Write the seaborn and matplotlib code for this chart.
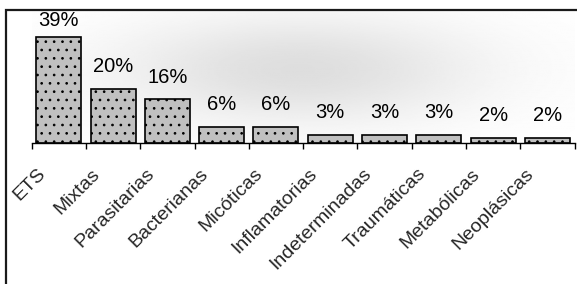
import numpy as np
import pandas as pd
import matplotlib
matplotlib.use("Agg")
import matplotlib.pyplot as plt
import matplotlib.patches as mpatches
from matplotlib.transforms import ScaledTranslation
import seaborn as sns

# Chart data
categories = ['ETS', 'Mixtas', 'Parasitarias', 'Bacterianas', 'Micóticas',
              'Inflamatorias', 'Indeterminadas', 'Traumáticas', 'Metabólicas', 'Neoplásicas']
percent = [39, 20, 16, 6, 6, 3, 3, 3, 2, 2]

sns.set_theme(style="white")
plt.rcParams['font.family'] = ['Liberation Sans', 'DejaVu Sans']
plt.rcParams['hatch.linewidth'] = 0.7

DPI = 100
fig = plt.figure(figsize=(5.77, 2.84), dpi=DPI)
fig.patch.set_facecolor('white')

# axes placed to match the reference plot area (pixels -> figure fraction)
ax = fig.add_axes([31.7 / 577, 141 / 284, (574.5 - 31.7) / 577, 133 / 284])
YTOP = 133 / 2.72

df = pd.DataFrame({'cat': categories, 'pct': percent})
sns.barplot(data=df, x='cat', y='pct', color='#c0c0c0', width=0.83,
            saturation=1, edgecolor='black', linewidth=1.2, ax=ax, zorder=2)
for p in ax.patches:
    p.set_hatch('..')

ax.set_xlim(-0.5, len(categories) - 0.5)
ax.set_ylim(0, YTOP)

# soft centred gradient of the plot area
gx, gy = np.meshgrid(np.linspace(-0.5, 9.5, 300), np.linspace(0, YTOP, 150))
g = np.exp(-(((gx - 4.4) / 3.4) ** 2 + ((gy - 27) / 20) ** 2))
shade = 1 - 0.13 * g
ax.imshow(shade, extent=(-0.5, 9.5, 0, YTOP), origin='lower', aspect='auto',
          cmap='gray', vmin=0, vmax=1, zorder=0)

# value labels
for i, v in enumerate(percent):
    ax.text(i, min(v + 8.1, 45.2), f'{v}%', ha='center', va='center',
            fontsize=14.5, color='black', zorder=3)

# axes styling
for s in ['left', 'top', 'right']:
    ax.spines[s].set_visible(False)
ax.spines['bottom'].set_color('black')
ax.spines['bottom'].set_linewidth(1.0)
ax.set_yticks([])
ax.set_xlabel('')
ax.set_ylabel('')
ax.set_xticks(np.arange(-0.5, len(categories), 1), minor=True)
ax.tick_params(axis='x', which='minor', bottom=True, length=4.3, width=1.0,
               color='black', direction='out')
ax.tick_params(axis='x', which='major', bottom=False, length=0, pad=20.5)
ax.set_xticks(range(len(categories)))
ax.set_xticklabels(categories, rotation=45, ha='right', va='center',
                   rotation_mode='anchor', fontsize=14)
offset = ScaledTranslation(-16 / DPI, 0, fig.dpi_scale_trans)
for lbl in ax.get_xticklabels():
    lbl.set_transform(lbl.get_transform() + offset)

# outer chart border (right and bottom edges lie outside the image)
fig.patches.append(mpatches.Rectangle((5.5 / 577, -0.2), 1.3, 0.2 + 1 - 9.5 / 284,
                                      transform=fig.transFigure, fill=False,
                                      edgecolor='#1a1a1a', linewidth=1.6,
                                      clip_on=False))

fig.savefig('out.png', dpi=DPI, facecolor='white')
plt.close(fig)
